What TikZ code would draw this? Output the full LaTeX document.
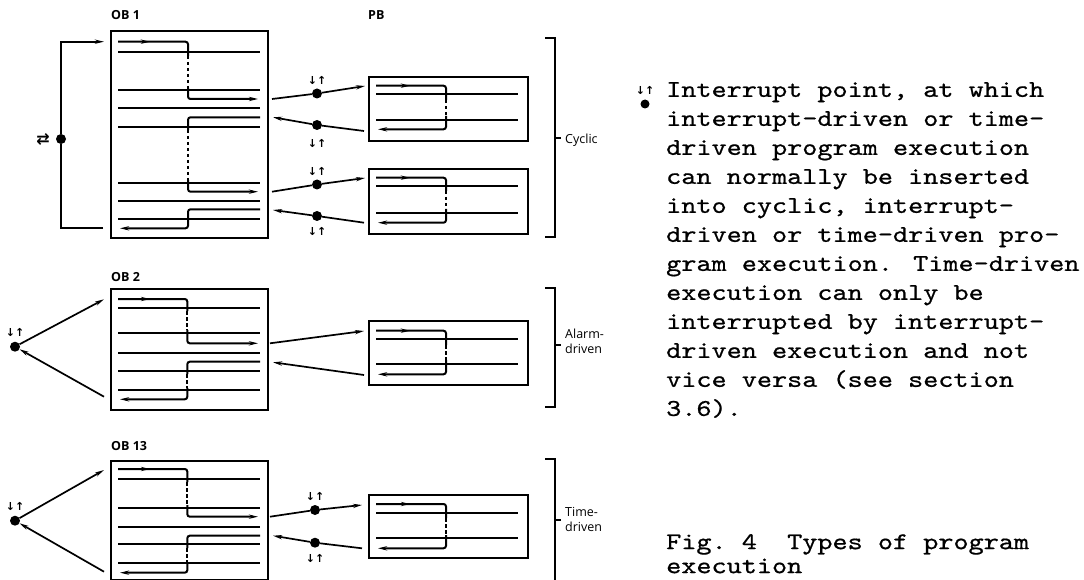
\documentclass[tikz,border=0pt]{standalone}
\usepackage{fontspec}
\usetikzlibrary{arrows.meta}
\newfontfamily\lab{Open Sans}
\newfontfamily\djv{DejaVu Sans}
\newfontfamily\cour{lmmono10-regular}[Extension=.otf,FakeStretch=1.2,FakeBold=0.7]
\tikzset{
  boxo/.style={draw, line width=2pt, inner sep=0pt, anchor=north west},
  ln/.style={line width=1.7pt},
  pth/.style={line width=2pt, rounded corners=2.5pt},
  tip/.style={-{Stealth[length=9pt,width=4.2pt]}},
  dot/.style={circle, fill, inner sep=0pt, minimum size=10pt},
  arrsym/.style={font=\djv\bfseries\fontsize{11}{11}\selectfont, inner sep=0pt},
  oblab/.style={font=\lab\bfseries\fontsize{12.5}{12.5}\selectfont, anchor=west, inner sep=0pt},
  brlab/.style={font=\lab\fontsize{12.5}{15}\selectfont, anchor=north west, inner sep=0pt, align=left},
  brk/.style={line width=1.8pt}
}
% zig path: #1 xs, #2 ytop, #3 xv, #4 dash start, #5 dash end, #6 ybot, #7 xend
\newcommand\zig[7]{%
  \draw[pth] (#1,#2) -- (#3,#2) -- (#3,#4);
  \draw[line width=2pt, dash pattern=on 3.5pt off 2.5pt] (#3,#4) -- (#3,#5);
  \draw[pth,tip] (#3,#5) -- (#3,#6) -- (#7,#6);
}
\newcommand\zigs[5]{%
  \draw[pth,tip] (#1,#2) -- (#3,#2) -- (#3,#4) -- (#5,#4);
}
\newcommand\midtip[2]{\draw[line width=2pt,tip] (#1-8,#2) -- (#1,#2);}
\newcommand\hl[2]{\draw[ln] (#1,#2) -- ++(142,0);}
\begin{document}
\begin{tikzpicture}[x=1pt,y=-1pt]
\useasboundingbox (0,0) rectangle (1084,580);

% ---------- OB 1 ----------
\node[oblab] (lob1) at (111,15) {OB 1};
\node[oblab] (lpb) at (368,15) {PB};
\node[boxo, minimum width=157pt, minimum height=207pt] (ob1) at (110,30) {};
\foreach \y in {52.3,90,108.3,126.7,182.7,201,219.3} {\hl{118}{\y}}
\zig{118}{41.7}{188}{56}{88}{99}{258}
\midtip{150}{41.7}
\zig{260}{117.3}{188}{130}{180}{191.7}{258}
\zigs{260}{209.3}{188}{228.3}{120}

% cyclic loop
\node[dot] (ld1) at (61,139) {};
\node[arrsym, font=\djv\bfseries\fontsize{16}{16}\selectfont] (ls1) at (43,139) {⇄};
\coordinate (l1b) at (103,228.3);
\coordinate (l1t) at (104,41.7);
\draw[ln] (l1b) -| (ld1);
\draw[ln,tip] (ld1) |- (l1t);

% PB 1
\node[boxo, minimum width=159pt, minimum height=64.3pt] (pb1) at (367.5,75.7) {};
\hl{376}{94.3}\hl{376}{120}
\zig{376}{85.7}{446}{100}{116}{129.3}{378}
\midtip{410}{85.7}
% PB 2
\node[boxo, minimum width=159pt, minimum height=65pt] (pb2) at (367.5,167.7) {};
\hl{376}{185.7}\hl{376}{212.7}
\zig{376}{177.7}{446}{191}{209}{222.7}{378}
\midtip{410}{177.7}

% interrupt points OB1 <-> PB
\node[dot] (i1) at (317,93.5) {};
\node[dot] (i2) at (317,125) {};
\node[dot] (i3) at (317,184.5) {};
\node[dot] (i4) at (317,216) {};
\node[arrsym] at (317,80) {↓↑};
\node[arrsym] at (317,143) {↓↑};
\node[arrsym] at (317,171) {↓↑};
\node[arrsym] at (317,231) {↓↑};
\coordinate (o1a) at (272,99);   \coordinate (p1a) at (365,86);
\coordinate (p1b) at (364,131);  \coordinate (o1b) at (273,117.3);
\coordinate (o1c) at (272,191.7);\coordinate (p2a) at (365,178);
\coordinate (p2b) at (364,222.7);\coordinate (o1d) at (273,210);
\draw[ln] (o1a) -- (i1); \draw[ln,tip] (i1) -- (p1a);
\draw[ln] (p1b) -- (i2); \draw[ln,tip] (i2) -- (o1b);
\draw[ln] (o1c) -- (i3); \draw[ln,tip] (i3) -- (p2a);
\draw[ln] (p2b) -- (i4); \draw[ln,tip] (i4) -- (o1d);

% bracket cyclic
\draw[brk] (545,38) -- (555,38) -- (555,237) -- (545,237);
\coordinate (bc) at (555,138);
\draw[brk] (bc) -- ++(6,0);
\node[brlab, anchor=west] (cyc) at (565,140) {Cyclic};

% ---------- OB 2 ----------
\node[oblab] (lob2) at (111,277) {OB 2};
\node[boxo, minimum width=157pt, minimum height=121pt] (ob2) at (110,288.3) {};
\foreach \y in {307.7,333.3,353.3,370.7,390} {\hl{118}{\y}}
\zig{118}{299}{187.3}{311}{330}{343.3}{258}
\midtip{150}{299}
\zig{260}{361.7}{187.3}{374}{388}{399.3}{120}
\node[dot] (ld2) at (15,346.7) {};
\node[arrsym] at (15,332) {↓↑};
\coordinate (l2t) at (104,299.3); \coordinate (l2b) at (104,396.7);
\draw[ln,tip] (ld2) -- (l2t);
\draw[ln,tip] (l2b) -- (ld2);
% PB 3
\node[boxo, minimum width=159pt, minimum height=64.3pt] (pb3) at (367.5,320) {};
\hl{376}{338.7}\hl{376}{364.3}
\zig{376}{330.7}{446}{345}{360}{374.3}{378}
\midtip{410}{330.7}
\coordinate (o2a) at (270,343.3); \coordinate (p3a) at (364,331);
\coordinate (p3b) at (364,375);   \coordinate (o2b) at (273,362.3);
\draw[ln,tip] (o2a) -- (p3a);
\draw[ln,tip] (p3b) -- (o2b);
% bracket alarm
\draw[brk] (545,288) -- (555,288) -- (555,407) -- (545,407);
\coordinate (ba) at (555,345);
\draw[brk] (ba) -- ++(6,0);
\node[brlab] (alarm) at (565,329) {Alarm-\\driven};

% ---------- OB 13 ----------
\node[oblab] (lob13) at (111,446) {OB 13};
\node[boxo, minimum width=157pt, minimum height=119pt] (ob13) at (110,460) {};
\foreach \y in {478.7,507.7,526.7,544.3,563.3} {\hl{118}{\y}}
\zig{118}{469}{187.3}{482}{505}{516.7}{258}
\midtip{150}{469}
\zig{260}{535.7}{187.3}{548}{562}{572.7}{120}
\node[dot] (ld3) at (15,520.7) {};
\node[arrsym] at (15,506) {↓↑};
\coordinate (l3t) at (104,470); \coordinate (l3b) at (104,571.7);
\draw[ln,tip] (ld3) -- (l3t);
\draw[ln,tip] (l3b) -- (ld3);
% PB 4
\node[boxo, minimum width=159pt, minimum height=63.3pt] (pb4) at (367.5,494) {};
\hl{376}{512.7}\hl{376}{538.3}
\zig{376}{504}{446}{518}{535}{548.3}{378}
\midtip{410}{504}
\node[dot] (i5) at (315,510) {};
\node[dot] (i6) at (315,542.7) {};
\node[arrsym] at (315,496) {↓↑};
\node[arrsym] at (315,558) {↓↑};
\coordinate (o3a) at (270,516.7); \coordinate (p4a) at (362,505);
\coordinate (p4b) at (362,548.3); \coordinate (o3b) at (273,535.7);
\draw[ln] (o3a) -- (i5); \draw[ln,tip] (i5) -- (p4a);
\draw[ln] (p4b) -- (i6); \draw[ln,tip] (i6) -- (o3b);
% bracket time
\draw[brk] (545,459) -- (555,459) -- (555,590);
\coordinate (bt) at (555,520);
\draw[brk] (bt) -- ++(6,0);
\node[brlab] (time) at (565,507) {Time-\\driven};

% ---------- legend text ----------
\node[dot, minimum size=9pt] (leg) at (645,104) {};
\node[arrsym] at (645,90) {↓↑};
\node[anchor=north west, align=left, inner sep=0pt,
      font=\cour\fontsize{24}{29}\selectfont] (txt) at (666,82)
 {Interrupt point, at which\\
  interrupt-driven or time-\\
  driven program execution\\
  can normally be inserted\\
  into cyclic, interrupt-\\
  driven or time-driven pro-\\
  gram execution. Time-driven\\
  execution can only be\\
  interrupted by interrupt-\\
  driven execution and not\\
  vice versa (see section\\
  3.6).};
\node[anchor=north west, align=left, inner sep=0pt,
      font=\cour\fontsize{24}{24}\selectfont] (fig) at (666,534)
 {Fig.\ 4\ \ Types of program\\
  execution};
\end{tikzpicture}
\end{document}
